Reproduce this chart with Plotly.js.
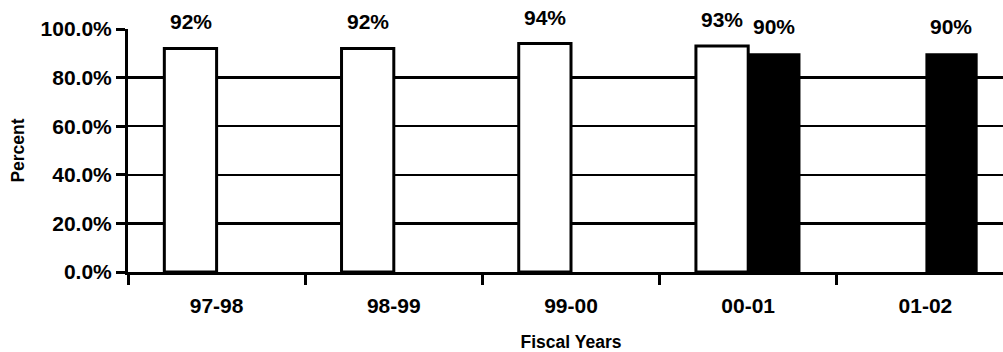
<!DOCTYPE html>
<html>
<head>
<meta charset="utf-8">
<script src="https://cdn.plot.ly/plotly-3.0.1.min.js"></script>
<style>
  html, body { margin: 0; padding: 0; background: #fff; overflow: hidden; }
  #chart { width: 1014px; height: 352px; }
</style>
</head>
<body>
<div id="chart"></div>
<script>
// Fiscal-year categories and the two percentage series
const fiscalYears = ['97-98', '98-99', '99-00', '00-01', '01-02'];
const actualPct   = [92, 92, 94, 93, null];
const targetPct   = [null, null, null, 90, 90];
const yTickVals   = [0, 20, 40, 60, 80, 100];

const FONT = 'Liberation Sans, Arial, sans-serif';

const traces = [
  {
    type: 'bar',
    x: fiscalYears,
    y: actualPct,
    marker: { color: '#ffffff', line: { color: '#000000', width: 3 } },
    hoverinfo: 'skip'
  },
  {
    type: 'bar',
    x: fiscalYears,
    y: targetPct,
    marker: { color: '#000000', line: { color: '#000000', width: 0 } },
    hoverinfo: 'skip'
  }
];

// value labels above each bar, shifted onto its own slot in the group
const halfBar = 26;
const annotations = [];
[[actualPct, -halfBar], [targetPct, halfBar]].forEach(([vals, dx]) => {
  vals.forEach((v, i) => {
    if (v === null) return;
    annotations.push({
      x: fiscalYears[i], y: v, xref: 'x', yref: 'y',
      text: v + '%', showarrow: false,
      xanchor: 'center', yanchor: 'bottom',
      xshift: dx, yshift: 13,
      font: { family: FONT, size: 21, color: '#000', weight: 'bold' }
    });
  });
});

const layout = {
  width: 1014, height: 352,
  margin: { l: 128, r: 0, t: 29, b: 80 },
  paper_bgcolor: '#ffffff', plot_bgcolor: '#ffffff',
  showlegend: false,
  barmode: 'group',
  bargap: 0.41,
  bargroupgap: 0,
  font: { family: FONT, color: '#000', weight: 'bold' },
  xaxis: {
    type: 'category',
    range: [-0.5, 4.5],
    showline: true, linecolor: '#000', linewidth: 3,
    showgrid: false, zeroline: false,
    ticks: 'outside', tickson: 'boundaries', ticklen: 10, tickwidth: 3, tickcolor: '#000',
    tickfont: { family: FONT, size: 21, color: '#000', weight: 'bold' },
    ticklabelstandoff: 13,
    title: { text: 'Fiscal Years', standoff: 21,
             font: { family: FONT, size: 17.5, color: '#000', weight: 'bold' } },
    fixedrange: true
  },
  yaxis: {
    range: [0, 100],
    tickvals: yTickVals,
    ticktext: yTickVals.map(v => v.toFixed(1) + '%'),
    showline: true, linecolor: '#000', linewidth: 3,
    showgrid: true, gridcolor: '#000', gridwidth: 2.5,
    zeroline: false,
    ticks: 'outside', ticklen: 9, tickwidth: 3, tickcolor: '#000',
    tickfont: { family: FONT, size: 21, color: '#000', weight: 'bold' },
    ticklabelstandoff: 0,
    title: { text: 'Percent', standoff: 12,
             font: { family: FONT, size: 17.5, color: '#000', weight: 'bold' } },
    fixedrange: true
  },
  annotations: annotations
};

Plotly.newPlot('chart', traces, layout, { staticPlot: true, displayModeBar: false });
</script>
</body>
</html>
